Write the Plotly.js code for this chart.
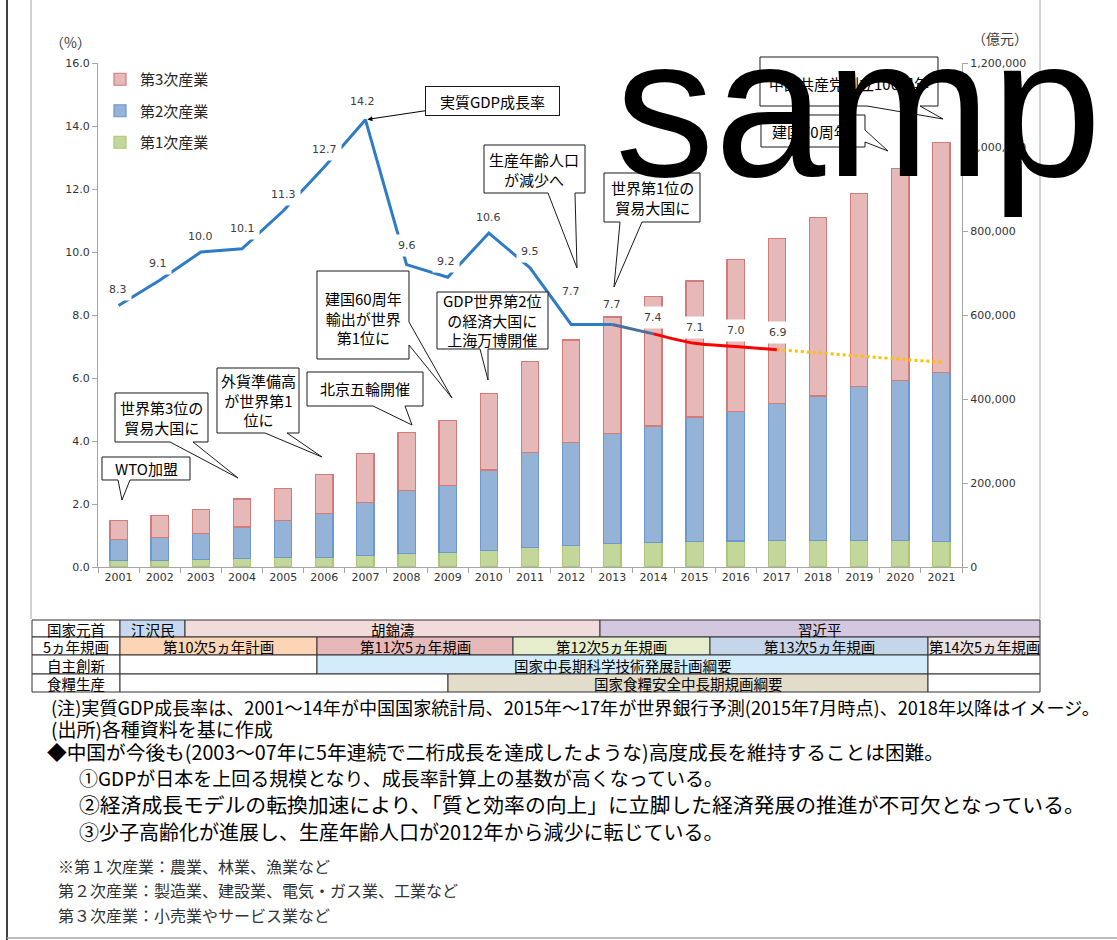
<!DOCTYPE html>
<html><head><meta charset="utf-8">
<script src="https://cdn.plot.ly/plotly-3.0.1.min.js"></script>
<style>html,body{margin:0;padding:0;background:#fff;}#chart{width:1117px;height:940px;}</style>
</head><body><div id="chart"></div>
<script>
// ---- data ----
const years = ['2001','2002','2003','2004','2005','2006','2007','2008','2009','2010','2011','2012','2013','2014','2015','2016','2017','2018','2019','2020','2021'];
// 億元
const primaryInd   = [15502,16190,16970,20904,21807,23317,27788,32753,34161,39362,46163,50902,55329,58344,60000,62000,63000,63000,63000,63000,60000];
const secondaryInd = [49660,54105,62697,74287,88082,104359,126633,149956,160171,191630,227038,244643,261956,277572,297000,309000,327000,344000,366000,382000,404000];
const tertiaryInd  = [45701,51423,57755,66649,77430,91762,115810,136806,154748,182038,216099,244822,277959,308059,324000,362000,393000,426000,461000,503000,546000];
// 実質GDP成長率 (%) 2001-2017
const gdpGrowth = [8.3,9.1,10.0,10.1,11.3,12.7,14.2,9.6,9.2,10.6,9.5,7.7,7.7,7.4,7.1,7.0,6.9];
// image 2017-2021
const growthImage = [6.9,6.8,6.7,6.6,6.5];
const seriesNames = ['第1次産業','第2次産業','第3次産業'];

// ---- layout helpers (pixel -> paper) ----
const L=98, R=962, T=63, B=567;
const px = x => (x-L)/(R-L);
const py = y => (B-y)/(B-T);
const CJK = '"Noto Sans CJK JP", sans-serif';
const NUM = '"DejaVu Sans", sans-serif';

const barLine = 1.2;
const traces = [
  {type:'bar', name:seriesNames[0], x:years, y:primaryInd, yaxis:'y', legendgroup:'a', legendrank:3,
   marker:{color:'#c4d79b', line:{color:'#adc67a', width:barLine}}},
  {type:'bar', name:seriesNames[1], x:years, y:secondaryInd, yaxis:'y', legendgroup:'b', legendrank:2,
   marker:{color:'#95b3d7', line:{color:'#6b98cf', width:barLine}}},
  {type:'bar', name:seriesNames[2], x:years, y:tertiaryInd, yaxis:'y', legendgroup:'c', legendrank:1,
   marker:{color:'#e6b9b8', line:{color:'#d27c7a', width:barLine}}},
  {type:'scatter', mode:'lines', x:years.slice(0,13), y:gdpGrowth.slice(0,13), yaxis:'y2', showlegend:false,
   line:{color:'#2e7bc6', width:3}},
  {type:'scatter', mode:'lines', x:years.slice(12,14), y:gdpGrowth.slice(12,14), yaxis:'y2', showlegend:false,
   line:{color:'#4a6e9e', width:3}},
  {type:'scatter', mode:'lines', x:years.slice(13,17), y:gdpGrowth.slice(13,17), yaxis:'y2', showlegend:false,
   line:{color:'#ff0000', width:3, shape:'spline', smoothing:0.8}},
  {type:'scatter', mode:'lines', x:years.slice(16,21), y:growthImage, yaxis:'y2', showlegend:false,
   line:{color:'#ffc000', width:3, dash:'dot'}}
];

// label offsets (pixels) for the growth labels
const labelShiftY = [16,17,16,20,17,17,18,19,16,16,16,33,20,16,16,16,17];
const labelShiftX = [-1,-2,0,0,0,0,-3,0,-2,0,0,0,0,0,0,0,1];

const annotations = [];
gdpGrowth.forEach((v,i)=>{
  annotations.push({xref:'x', yref:'y2', x:i, y:v, text:v.toFixed(1), showarrow:false,
    yshift:labelShiftY[i], xshift:labelShiftX[i], bgcolor:'#ffffff', borderpad:4,
    font:{family:NUM, size:11, color:'#404040'}});
});

const shapes = [];
function pt(x,y){return px(x).toFixed(5)+','+py(y).toFixed(5);}
// callout: box + wedge
function callout(x0,y0,x1,y1,edge,b1,b2,tx,ty){
  let p;
  if(edge==='bottom'){
    p = 'M'+pt(x0,y0)+' L'+pt(x1,y0)+' L'+pt(x1,y1)+' L'+pt(b2,y1)+' L'+pt(tx,ty)+' L'+pt(b1,y1)+' L'+pt(x0,y1)+' Z';
  } else {
    p = 'M'+pt(x0,y0)+' L'+pt(x1,y0)+' L'+pt(x1,b1)+' L'+pt(tx,ty)+' L'+pt(x1,b2)+' L'+pt(x1,y1)+' L'+pt(x0,y1)+' Z';
  }
  shapes.push({type:'path', xref:'paper', yref:'paper', path:p, fillcolor:'#ffffff',
    line:{color:'#1a1a1a', width:1}, layer:'above'});
}
function text(x,y,t,opt){
  opt = opt||{};
  annotations.push(Object.assign({xref:'paper', yref:'paper', x:px(x), y:py(y), text:t, showarrow:false,
    xanchor:opt.xanchor||'center', yanchor:'middle', borderpad:0,
    font:{family:opt.family||CJK, size:opt.size||15, color:opt.color||'#000000'}}, opt.extra||{}));
}

const callouts = [
  {box:[102,457,190,480], edge:'bottom', b:[118,130], tip:[122,500], t:'WTO加盟', c:[146,468]},
  {box:[115,393,208,442], edge:'bottom', b:[170,193], tip:[238,478], t:'世界第3位の<br>貿易大国に', c:[161,418]},
  {box:[217,368,299,433], edge:'bottom', b:[265,287], tip:[322,457], t:'外貨準備高<br>が世界第1<br>位に', c:[258,400]},
  {box:[307,372,423,406], edge:'bottom', b:[373,405], tip:[412,425], t:'北京五輪開催', c:[365,389]},
  {box:[317,271,409,359], edge:'right', b:[322,345], tip:[452,398], t:'建国60周年<br>輸出が世界<br>第1位に', c:[363,318]},
  {box:[437,292,548,349], edge:'bottom', b:[480,488], tip:[488,380], t:'GDP世界第2位<br>の経済大国に<br>上海万博開催', c:[492,320]},
  {box:[484,145,585,193], edge:'bottom', b:[548,575], tip:[577,268], t:'生産年齢人口<br>が減少へ', c:[534,169]},
  {box:[604,173,700,222], edge:'bottom', b:[620,642], tip:[614,287], t:'世界第1位の<br>貿易大国に', c:[652,197]},
  {box:[760,57,938,106], edge:'bottom', b:[867,920], tip:[943,119], t:'中国共産党創立100周年', c:[849,84]},
  {box:[761,115,865,147], edge:'right', b:[130,142], tip:[888,151], t:'建国70周年', c:[810,131]}
];
callouts.forEach(c=>{
  callout(c.box[0],c.box[1],c.box[2],c.box[3],c.edge,c.b[0],c.b[1],c.tip[0],c.tip[1]);
  text(c.c[0],c.c[1],c.t,{size:15});
});

// 実質GDP成長率 arrow box
annotations.push({xref:'x', yref:'y2', x:6, y:gdpGrowth[6], text:'実質GDP成長率', showarrow:true,
  axref:'pixel', ayref:'pixel', ax:127, ay:-19, arrowhead:2, arrowsize:1, arrowwidth:1, arrowcolor:'#000',
  standoff:2, bordercolor:'#1a1a1a', borderwidth:1, bgcolor:'#fff', width:131, height:26,
  font:{family:CJK, size:15, color:'#000'}});

// axis unit labels
text(70,42,'（%）',{size:14, color:'#404040'});
text(1000,38,'（億元）',{size:14, color:'#404040'});

// ---- table ----
const rowY = [620,637,655,674,692];
const rowLabels = ['国家元首','5ヵ年規画','自主創新','食糧生産'];
const tableCells = [
  [[120,185,'#c6d9f1','江沢民'],[185,600,'#f2dcdb','胡錦濤'],[600,1040,'#d4c8e0','習近平']],
  [[120,317,'#fcd5b4','第10次5ヵ年計画'],[317,513,'#e6b8b7','第11次5ヵ年規画'],[513,710,'#e5edcd','第12次5ヵ年規画'],[710,928,'#c5d6ea','第13次5ヵ年規画'],[928,1040,'#ece2e2','第14次5ヵ年規画']],
  [[120,317,'#ffffff',''],[317,928,'#d3ecfb','国家中長期科学技術発展計画綱要'],[928,1040,'#ffffff','']],
  [[120,448,'#ffffff',''],[448,928,'#e2ddca','国家食糧安全中長期規画綱要'],[928,1040,'#ffffff','']]
];
for(let r=0;r<4;r++){
  shapes.push({type:'rect', xref:'paper', yref:'paper', x0:px(32), x1:px(120), y0:py(rowY[r]), y1:py(rowY[r+1]),
    fillcolor:'#ffffff', line:{color:'#333', width:1}, layer:'above'});
  text(76,(rowY[r]+rowY[r+1])/2+0.5,rowLabels[r],{size:14.5});
  tableCells[r].forEach(c=>{
    shapes.push({type:'rect', xref:'paper', yref:'paper', x0:px(c[0]), x1:px(c[1]), y0:py(rowY[r]), y1:py(rowY[r+1]),
      fillcolor:c[2], line:{color:'#333', width:1}, layer:'above'});
    if(c[3]) text((c[0]+c[1])/2,(rowY[r]+rowY[r+1])/2+0.5,c[3],{size:14.5});
  });
}

// frame lines
function line(x0,y0,x1,y1,color,w){
  shapes.push({type:'line', xref:'paper', yref:'paper', x0:px(x0), y0:py(y0), x1:px(x1), y1:py(y1),
    line:{color:color, width:w}, layer:'above'});
}
line(7,0,7,940,'#000',1.5);
line(31,0,31,619,'#a6a6a6',1);
line(1040,0,1040,619,'#a6a6a6',1);
line(7,938,1117,938,'#a6a6a6',1.5);

// notes
const notes = [
  [50,707,18.1,'(注)実質GDP成長率は、2001～14年が中国国家統計局、2015年～17年が世界銀行予測(2015年7月時点)、2018年以降はイメージ。'],
  [50,728,19,'(出所)各種資料を基に作成'],
  [46,751,19.7,'◆中国が今後も(2003～07年に5年連続で二桁成長を達成したような)高度成長を維持することは困難。'],
  [78,777,19,'①GDPが日本を上回る規模となり、成長率計算上の基数が高くなっている。'],
  [78,804,20.8,'②経済成長モデルの転換加速により、「質と効率の向上」に立脚した経済発展の推進が不可欠となっている。'],
  [78,831,20,'③少子高齢化が進展し、生産年齢人口が2012年から減少に転じている。']
];
notes.forEach(n=>text(n[0],n[1],n[3],{xanchor:'left', size:n[2]}));
const defs = ['※第１次産業：農業、林業、漁業など','第２次産業：製造業、建設業、電気・ガス業、工業など','第３次産業：小売業やサービス業など'];
[866,890,915].forEach((y,i)=>text(57,y,defs[i],{xanchor:'left', size:16, color:'#333'}));

// watermark
annotations.push({xref:'paper', yref:'paper', x:px(615), y:py(-4), xanchor:'left', yanchor:'top',
  text:'samp', showarrow:false, borderpad:0, borderwidth:0,
  font:{family:'"Liberation Sans", Arial, sans-serif', size:199, color:'#000'}});

const axisCommon = {showgrid:false, zeroline:false, showline:true, linecolor:'#a6a6a6', linewidth:1,
  ticks:'outside', ticklen:5, tickcolor:'#a6a6a6', tickfont:{family:NUM, size:11, color:'#333'}};

const layout = {
  width:1117, height:940, paper_bgcolor:'#fff', plot_bgcolor:'#fff',
  margin:{l:L, r:1117-R, t:T, b:940-B, autoexpand:false},
  barmode:'stack', bargap:0.58,
  showlegend:true,
  legend:{x:px(100), y:py(63), xanchor:'left', yanchor:'top', bgcolor:'rgba(0,0,0,0)',
    traceorder:'grouped', tracegroupgap:9, font:{family:CJK, size:15, color:'#262626'}},
  xaxis:Object.assign({}, axisCommon, {type:'category', tickson:'boundaries', ticklen:5, range:[-0.5,20.5], autorange:false}),
  yaxis:Object.assign({}, axisCommon, {side:'right', range:[0,1200000], dtick:200000, tickformat:',d'}),
  yaxis2:Object.assign({}, axisCommon, {overlaying:'y', side:'left', range:[0,16], dtick:2, tickformat:'.1f'}),
  shapes:shapes, annotations:annotations
};
Plotly.newPlot('chart', traces, layout, {displayModeBar:false, staticPlot:true});
</script></body></html>
